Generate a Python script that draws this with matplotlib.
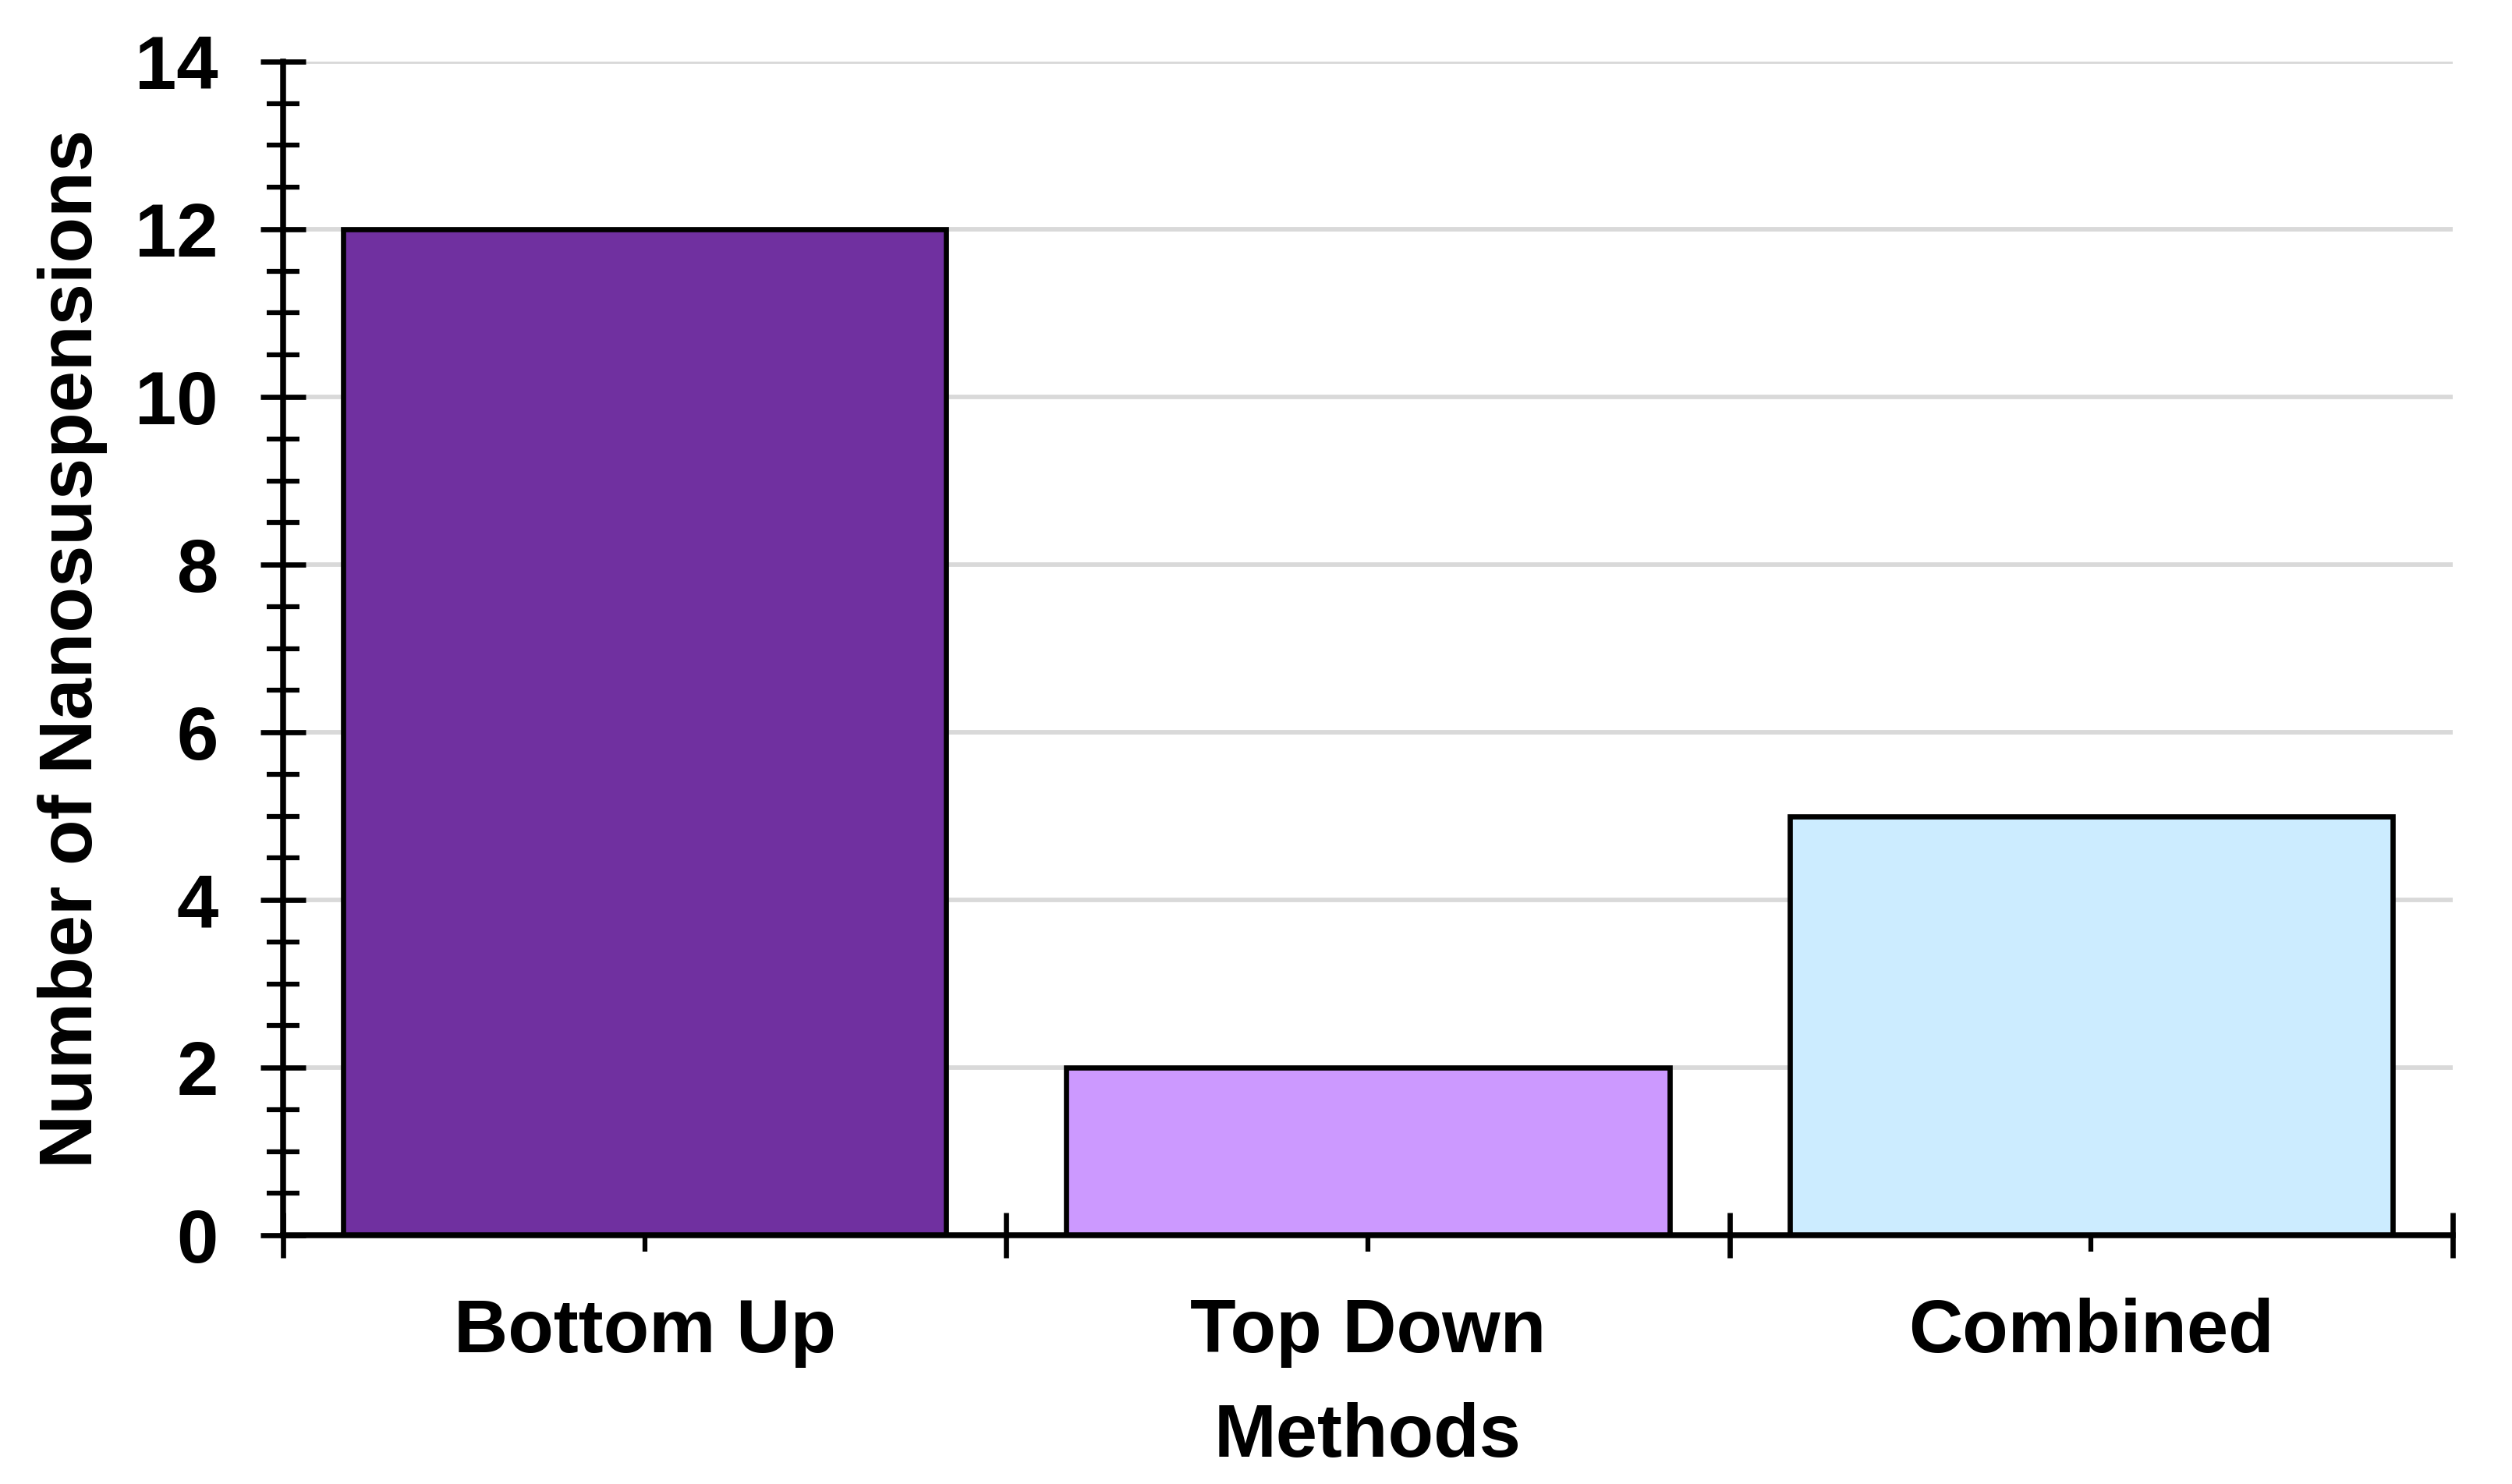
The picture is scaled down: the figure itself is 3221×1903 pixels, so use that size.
import numpy as np
import matplotlib.pyplot as plt
from matplotlib.ticker import MultipleLocator, FixedLocator

plt.rcParams['font.family'] = ['Liberation Sans', 'DejaVu Sans']
plt.rcParams['font.weight'] = 'bold'

methods = ['Bottom Up', 'Top Down', 'Combined']
counts = [12, 2, 5]
colors = ['#7030A0', '#CC99FF', '#CCECFF']

fig = plt.figure(figsize=(3221 / 300, 1903 / 300), dpi=300)
ax = fig.add_axes([0.1127, 0.1676, 0.8637, 0.7909])

x = np.arange(len(methods))
ax.bar(x, counts, width=0.834, color=colors, edgecolor='black', linewidth=1.6, zorder=3)

ax.set_xlim(-0.5, len(methods) - 0.5)
ax.set_ylim(0, 14)

# y axis: majors every 2 with grid, minors every 0.5
ax.yaxis.set_major_locator(MultipleLocator(2))
ax.yaxis.set_minor_locator(MultipleLocator(0.5))
ax.grid(axis='y', which='major', color='#D9D9D9', linewidth=1.4, zorder=0)

# x axis: majors at category boundaries, labels on centres
ax.xaxis.set_major_locator(FixedLocator(np.arange(-0.5, len(methods), 1.0)))
ax.xaxis.set_minor_locator(FixedLocator(x))
ax.set_xticklabels([], minor=False)
ax.set_xticklabels(methods, minor=True)

ax.tick_params(axis='both', which='major', direction='inout', length=13.9, width=1.6, colors='black')
ax.tick_params(axis='both', which='minor', direction='inout', length=10.3, width=1.5, colors='black')
ax.tick_params(axis='y', which='major', labelsize=23, pad=13)
ax.tick_params(axis='x', which='minor', labelsize=23, pad=14)

for s in ['top', 'right']:
    ax.spines[s].set_visible(False)
for s in ['left', 'bottom']:
    ax.spines[s].set_linewidth(1.8)
    ax.spines[s].set_zorder(4)

ax.set_xlabel('Methods', fontsize=23, fontweight='bold')
ax.set_ylabel('Number of Nanosuspensions', fontsize=23, fontweight='bold')
ax.xaxis.set_label_coords(0.5, -0.142)
ax.yaxis.set_label_coords(-0.081, 0.5)

fig.savefig('out.png', dpi=300)
